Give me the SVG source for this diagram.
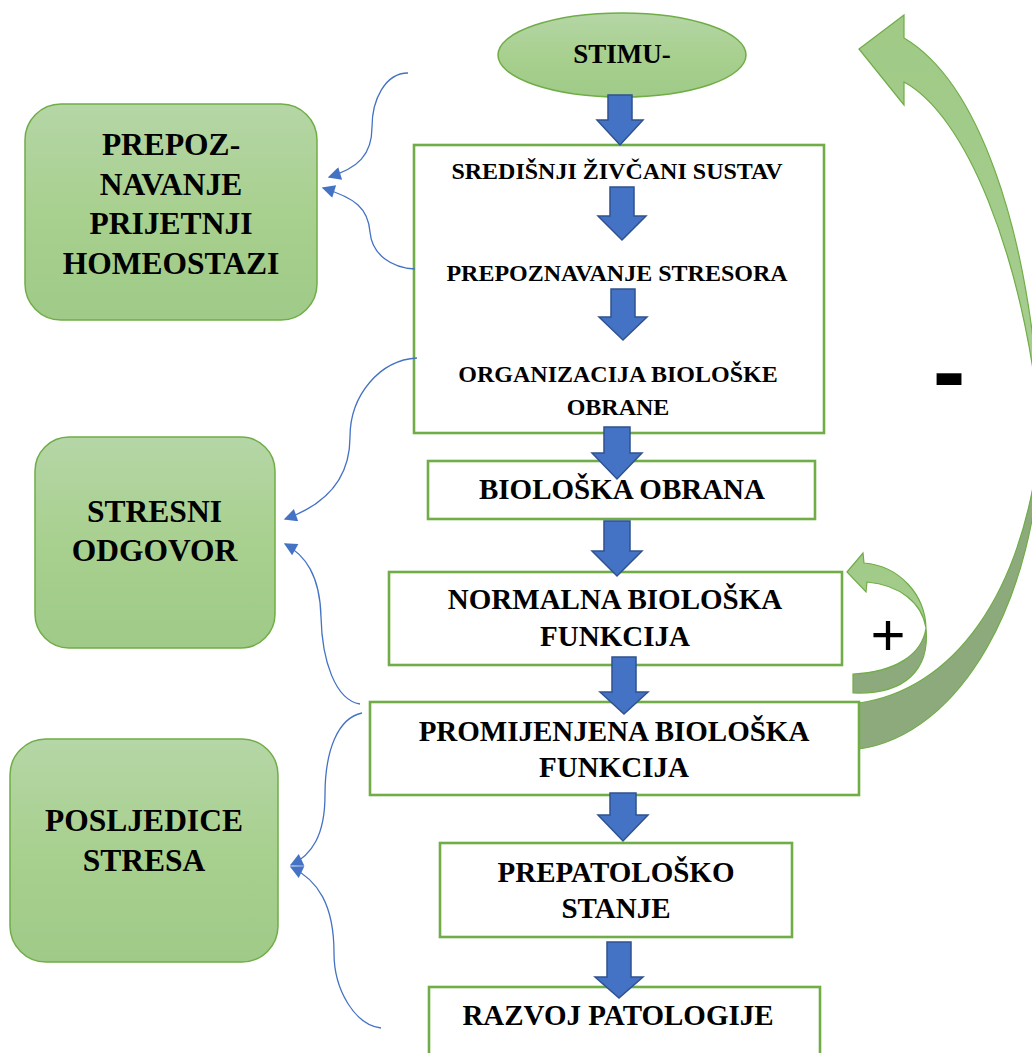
<svg xmlns="http://www.w3.org/2000/svg" width="1032" height="1053" viewBox="0 0 1032 1053">
<defs>
<style>
.box{fill:#ffffff;stroke:#70AD47;stroke-width:2.6}
.rbox{fill:url(#gg);stroke:#70AD47;stroke-width:1.5}
.t{font-family:"Liberation Serif","Times New Roman",serif;font-weight:bold;fill:#000;text-anchor:middle}
.t24{font-size:24px}
.t29{font-size:29px}
.t31{font-size:31.5px}
.barrow{fill:#4472C4;stroke:#2F528F;stroke-width:1.5;stroke-linejoin:miter}
.curve{fill:none;stroke:#4472C4;stroke-width:1.3;marker-end:url(#ah)}
.light{fill:url(#lg);stroke:#70AD47;stroke-width:1.2}
.dark{fill:#8DAA7C;stroke:#70AD47;stroke-width:1.2}
.sign{font-family:"Liberation Sans",Arial,sans-serif;fill:#000;text-anchor:middle}
</style>
<linearGradient id="gg" x1="0" y1="0" x2="0" y2="1">
<stop offset="0" stop-color="#B5D6A6"/>
<stop offset="0.5" stop-color="#A8D08F"/>
<stop offset="1" stop-color="#9FCA88"/>
</linearGradient>
<linearGradient id="lg" x1="0" y1="0" x2="0" y2="1">
<stop offset="0" stop-color="#A0CA86"/>
<stop offset="1" stop-color="#A6CE91"/>
</linearGradient>
<marker id="ah" viewBox="0 0 10 10" refX="9" refY="5" markerWidth="16" markerHeight="13" markerUnits="userSpaceOnUse" orient="auto">
<path d="M0,0 L10,5 L0,10 Z" fill="#4472C4"/>
</marker>
</defs>

<g id="feedback-negative">
<path class="dark" d="M1041,430 C1038,600 960,735 859,749 L859,703 C950,690 1025,600 1041,430 Z"/>
<path class="light" d="M859,49 L904,15 L904,38 C975,80 1030,220 1041,430 C1022,250 965,115 904,82 L904,105 Z"/>
<text class="sign" x="949" y="405" font-size="98" font-weight="bold">-</text>
</g>
<g id="feedback-positive">
<path class="dark" d="M926,628 C930,670 905,695 853,693 L853,674 C895,672 922,655 926,628 Z"/>
<path class="light" d="M847,572 L863,553 L864,563 C900,566 925,595 926,628 C922,603 900,585 867,582 L866,592 Z"/>
<text class="sign" x="888" y="655" font-size="60">+</text>
</g>

<g id="node-stimulus">
<ellipse cx="622" cy="55" rx="124" ry="42" fill="url(#gg)" stroke="#70AD47" stroke-width="1.5"/>
<text class="t" x="622" y="63" font-size="27">STIMU-</text>
</g>

<g id="node-cns">
<rect class="box" x="414" y="145" width="410" height="288"/>
<text class="t t24" x="617" y="179">SREDIŠNJI ŽIVČANI SUSTAV</text>
<text class="t t24" x="617" y="281">PREPOZNAVANJE STRESORA</text>
<text class="t t24" x="618" y="382">ORGANIZACIJA BIOLOŠKE</text>
<text class="t t24" x="618" y="415">OBRANE</text>
</g>

<g id="node-bioloska-obrana">
<rect class="box" x="428" y="461" width="387" height="58"/>
<text class="t t29" x="622" y="499">BIOLOŠKA OBRANA</text>
</g>

<g id="node-normalna">
<rect class="box" x="389" y="572" width="453" height="93"/>
<text class="t t29" x="615" y="609">NORMALNA BIOLOŠKA</text>
<text class="t t29" x="615" y="646">FUNKCIJA</text>
</g>

<g id="node-promijenjena">
<rect class="box" x="370" y="702" width="489" height="93"/>
<text class="t t29" x="614" y="741">PROMIJENJENA BIOLOŠKA</text>
<text class="t t29" x="614" y="777">FUNKCIJA</text>
</g>

<g id="node-prepatolosko">
<rect class="box" x="440" y="843" width="352" height="94"/>
<text class="t t29" x="616" y="882">PREPATOLOŠKO</text>
<text class="t t29" x="616" y="918">STANJE</text>
</g>

<g id="node-razvoj">
<rect class="box" x="429" y="987" width="391" height="90"/>
<text class="t t29" x="618" y="1025">RAZVOJ PATOLOGIJE</text>
</g>

<g id="node-prepoznavanje">
<rect class="rbox" x="25" y="104" width="292" height="216" rx="36" ry="36"/>
<text class="t t31" x="171" y="155">PREPOZ-</text>
<text class="t t31" x="171" y="195">NAVANJE</text>
<text class="t t31" x="171" y="234">PRIJETNJI</text>
<text class="t t31" x="171" y="274">HOMEOSTAZI</text>
</g>

<g id="node-stresni-odgovor">
<rect class="rbox" x="35" y="437" width="240" height="211" rx="34" ry="34"/>
<text class="t t31" x="154.5" y="522">STRESNI</text>
<text class="t t31" x="154.5" y="561">ODGOVOR</text>
</g>

<g id="node-posljedice">
<rect class="rbox" x="10" y="739" width="268" height="223" rx="36" ry="36"/>
<text class="t t31" x="144" y="831">POSLJEDICE</text>
<text class="t t31" x="144" y="871">STRESA</text>
</g>

<g id="connectors">
<polygon class="barrow" points="608,95 632,95 632,120 643,120 620,145 597,120 608,120"/>
<polygon class="barrow" points="610,187 634,187 634,216 646,216 622,240 598,216 610,216"/>
<polygon class="barrow" points="611,289 635,289 635,317 647,317 623,340 599,317 611,317"/>
<polygon class="barrow" points="604,427 630,427 630,453 642,453 617,479 592,453 604,453"/>
<polygon class="barrow" points="604,521 630,521 630,551 642,551 617,576 592,551 604,551"/>
<polygon class="barrow" points="612,657 636,657 636,692 648,692 624,714 600,692 612,692"/>
<polygon class="barrow" points="610,793 636,793 636,815 648,815 623,841 598,815 610,815"/>
<polygon class="barrow" points="607,942 631,942 631,977 643,977 619,998 595,977 607,977"/>

<path class="curve" d="M408,73 C385,73 372,100 372,127 C372,155 358,168 329,177"/>
<path class="curve" d="M415,269 C392,268 372,255 370,232 C368,208 355,198 323,188"/>
<path class="curve" d="M417,358 C380,360 350,395 350,437 C350,480 325,505 285,519"/>
<path class="curve" d="M360,704 C335,700 322,660 321,617 C320,575 305,555 285,544"/>
<path class="curve" d="M362,713 C338,718 325,750 325,795 C325,835 312,855 291,865"/>
<path class="curve" d="M381,1028 C355,1025 334,990 334,953 C334,905 318,880 291,867"/>
</g>
</svg>
